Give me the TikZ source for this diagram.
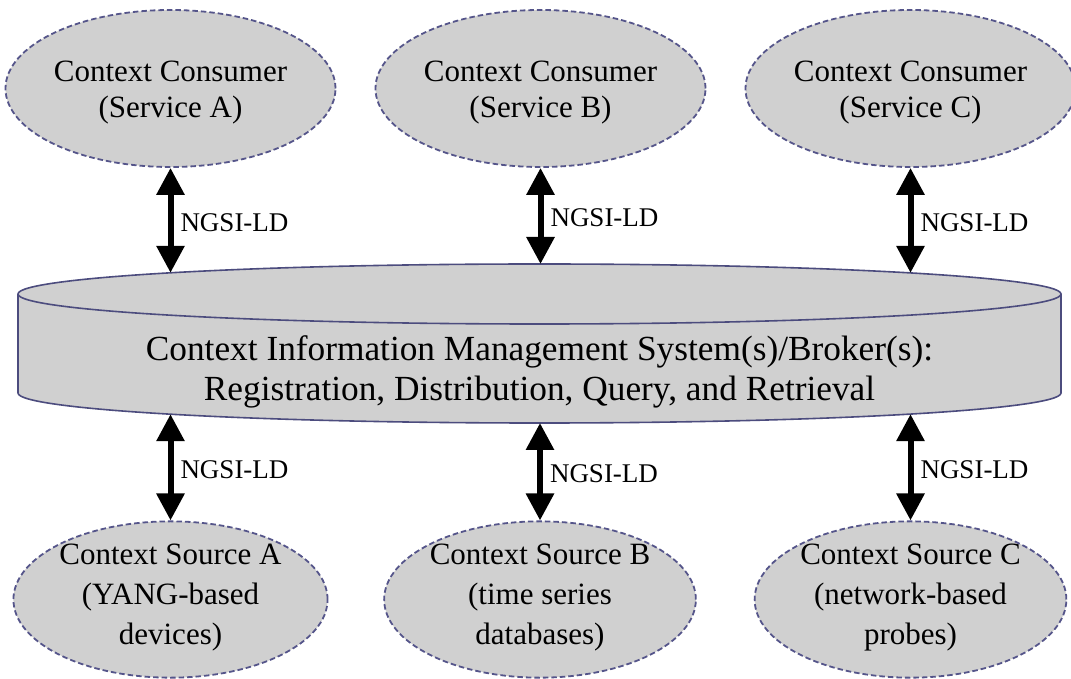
\documentclass[tikz,border=0pt]{standalone}
\usepackage{fontspec}
\setmainfont{Liberation Serif}
\usetikzlibrary{arrows.meta,shapes.geometric}
\definecolor{shapefill}{HTML}{D0D0D0}
\definecolor{ellborder}{HTML}{55558A}
\definecolor{cylborder}{HTML}{4C4C7E}
\tikzset{
  ctxell/.style={ellipse, draw=ellborder, fill=shapefill, line width=1.8pt,
    dash pattern=on 5.5pt off 3pt, inner sep=0pt, minimum width=295pt, align=center},
  topell/.style={ctxell, minimum height=157pt, font=\fontsize{31}{36.5}\selectfont},
  botell/.style={ctxell, minimum height=155pt, font=\fontsize{31}{40}\selectfont},
  cyltext/.style={inner sep=0pt, align=center, font=\fontsize{35.3}{40}\selectfont},
  lbl/.style={inner sep=0pt, font=\fontsize{27}{30}\selectfont, anchor=west, xshift=7pt, yshift=-2pt},
  biarrow/.style={line width=6pt, {Triangle[width=27pt,length=27pt]}-{Triangle[width=27pt,length=27pt]}}
}
\begin{document}
\begin{tikzpicture}[x=1pt,y=1pt]
\useasboundingbox (0,0) rectangle (1071,678);
% cylinder
\fill[shapefill] (18,384) -- (18,285) arc[start angle=180, end angle=360, x radius=521.5, y radius=30]
  -- (1061,384) arc[start angle=0, end angle=180, x radius=521.5, y radius=30] -- cycle;
\draw[cylborder, line width=1.6pt, line join=round] (18,384) -- (18,285) arc[start angle=180, end angle=360, x radius=521.5, y radius=30]
  -- (1061,384) arc[start angle=0, end angle=180, x radius=521.5, y radius=30] -- cycle;
\draw[cylborder, line width=1.6pt] (18,384) arc[start angle=180, end angle=360, x radius=521.5, y radius=30];
\node[cyltext] (cim) at (539.5,306.1) {Context Information Management System(s)/Broker(s):\\Registration, Distribution, Query, and Retrieval};
% contact points on the cylinder
\coordinate (cta) at (170.5,405.2);
\coordinate (ctb) at (540.5,414);
\coordinate (ctc) at (910.5,405.1);
\coordinate (cba) at (170.5,263.8);
\coordinate (cbb) at (540,255);
\coordinate (cbc) at (910.5,263.9);
% consumers
\node[topell] (ca) at (170.5,589.5) {\rule{0pt}{29pt}Context Consumer\\(Service A)};
\node[topell] (cb) at (540.5,589.5) {\rule{0pt}{29pt}Context Consumer\\(Service B)};
\node[topell] (cc) at (910.5,589.5) {\rule{0pt}{29pt}Context Consumer\\(Service C)};
% sources
\node[botell] (sa) at (170.5,78.5) {Context Source A\\(YANG-based\\devices)\rule[-10pt]{0pt}{0pt}};
\node[botell] (sb) at (540,78.5) {Context Source B\\(time series\\databases)\rule[-10pt]{0pt}{0pt}};
\node[botell] (sc) at (910.5,78.5) {Context Source C\\(network-based\\probes)\rule[-10pt]{0pt}{0pt}};
% connectors
\draw[biarrow] (ca.south) -- (cta) node[lbl, pos=0.5] (la) {NGSI-LD};
\draw[biarrow] (cb.south) -- (ctb) node[lbl, pos=0.5] (lb) {NGSI-LD};
\draw[biarrow] (cc.south) -- (ctc) node[lbl, pos=0.5] (lc) {NGSI-LD};
\draw[biarrow] (cba) -- (sa.north) node[lbl, pos=0.5] (ld) {NGSI-LD};
\draw[biarrow] (cbb) -- (sb.north) node[lbl, pos=0.5] (le) {NGSI-LD};
\draw[biarrow] (cbc) -- (sc.north) node[lbl, pos=0.5] (lf) {NGSI-LD};
\end{tikzpicture}
\end{document}
